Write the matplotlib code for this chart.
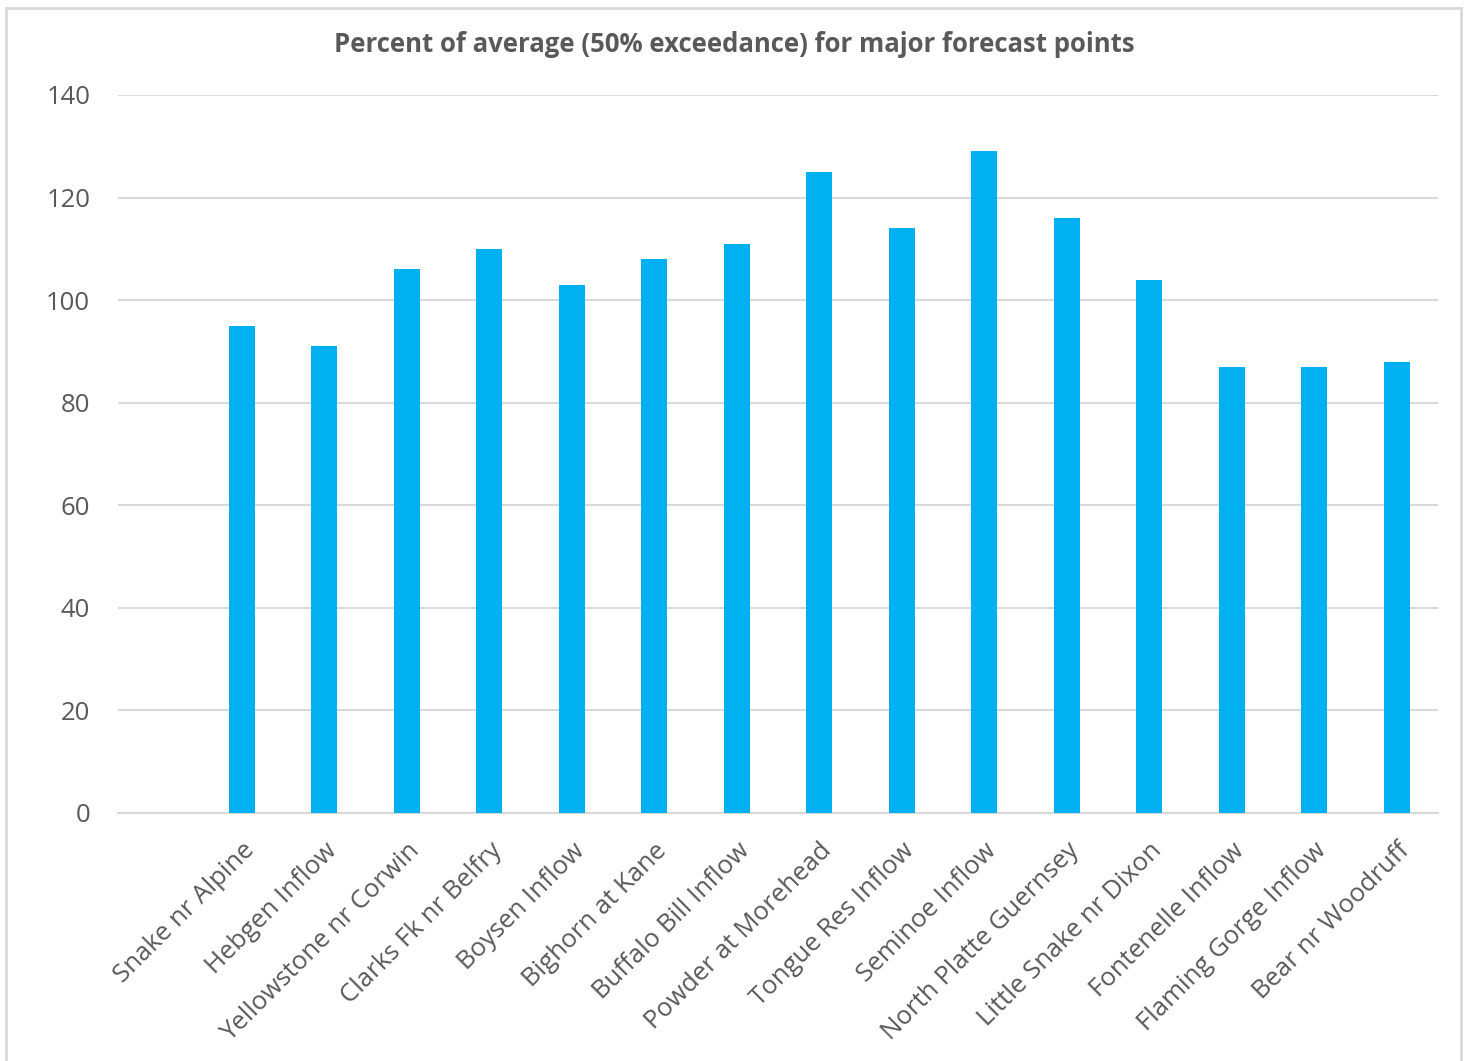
import numpy as np
import matplotlib
matplotlib.use("Agg")
import matplotlib.pyplot as plt
from matplotlib.patches import Rectangle

# forecast points and percent of average (50% exceedance)
points = ['Snake nr Alpine', 'Hebgen Inflow', 'Yellowstone nr Corwin', 'Clarks Fk nr Belfry',
          'Boysen Inflow', 'Bighorn at Kane', 'Buffalo Bill Inflow', 'Powder at Morehead',
          'Tongue Res Inflow', 'Seminoe Inflow', 'North Platte Guernsey', 'Little Snake nr Dixon',
          'Fontenelle Inflow', 'Flaming Gorge Inflow', 'Bear nr Woodruff']
pct_avg = [95, 91, 106, 110, 103, 108, 111, 125, 114, 129, 116, 104, 87, 87, 88]
yticks = [0, 20, 40, 60, 80, 100, 120, 140]

plt.rcParams['font.family'] = ['Open Sans', 'DejaVu Sans']
txt_col = '#595959'
grid_col = '#d9d9d9'

W, H = 1470, 1061
fig = plt.figure(figsize=(W/100, H/100), dpi=100)
ax = fig.add_axes([118/W, (H-813)/H, (1438-118)/W, (813-95)/H])

x = np.arange(len(points))
ax.bar(x, pct_avg, width=0.315, color='#00b0f0', zorder=3)

ax.set_xlim(-1.5, len(points) - 0.5)
ax.set_ylim(0, 140)
ax.set_yticks(yticks)
ax.set_yticklabels([str(t) for t in yticks], fontsize=18.5, color=txt_col)
ax.set_xticks(x)
ax.set_xticklabels(points, rotation=45, ha='right', rotation_mode='anchor',
                   fontsize=18.5, color=txt_col)
ax.tick_params(axis='both', length=0)
ax.tick_params(axis='y', pad=20)
ax.tick_params(axis='x', pad=18)
ax.grid(axis='y', color=grid_col, linewidth=1.5, zorder=0)
for s in ['top', 'right', 'left']:
    ax.spines[s].set_visible(False)
ax.spines['bottom'].set_color(grid_col)
ax.spines['bottom'].set_linewidth(1.5)

fig.text(734/W, 1 - 45/H, 'Percent of average (50% exceedance) for major forecast points',
         ha='center', va='center', fontsize=18.5, fontweight='bold', color=txt_col)

# light chart border
fig.patches.append(Rectangle((6/W, -0.01), (1461-6)/W, (H-8)/H + 0.01,
                             transform=fig.transFigure, fill=False,
                             edgecolor=grid_col, linewidth=2))

fig.savefig('out.png', dpi=100, facecolor='white')
